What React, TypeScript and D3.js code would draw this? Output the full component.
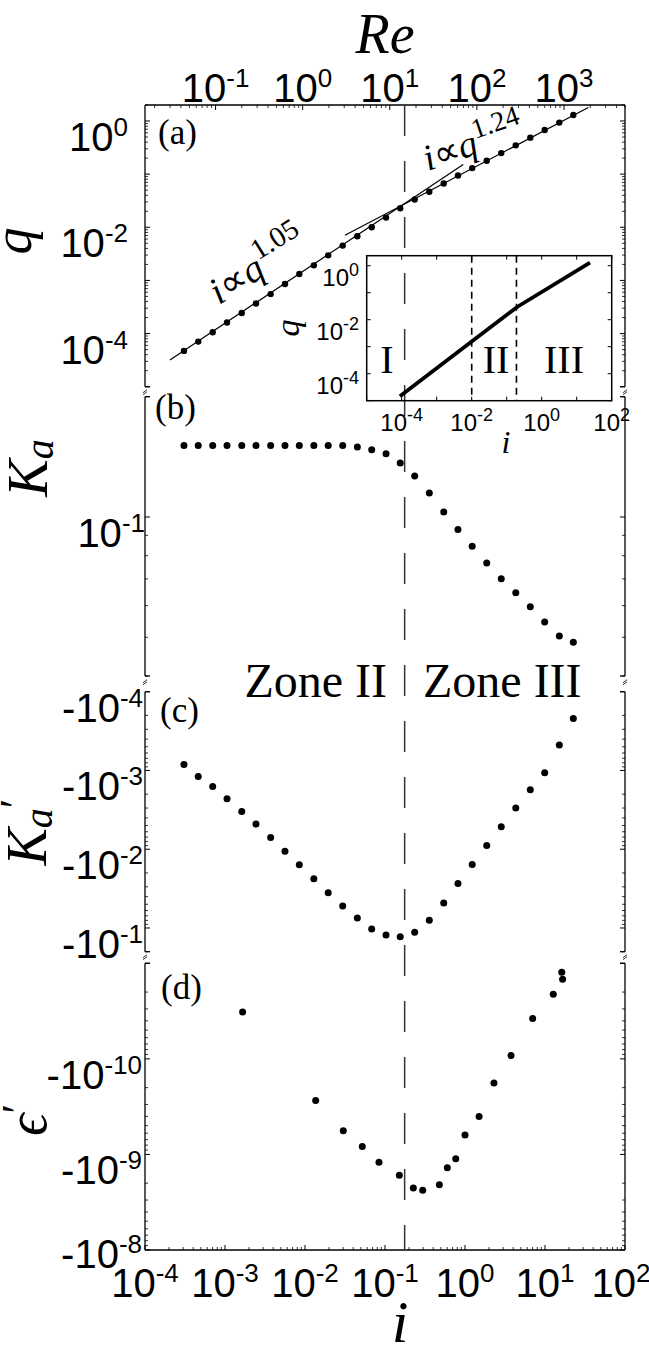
import React from "react";
import * as d3 from "d3";

// ---------------- data ----------------
const iValues = [3.07e-4, 4.63e-4, 7.02e-4, 1.06e-3, 1.62e-3, 2.44e-3, 3.72e-3, 5.62e-3, 8.49e-3, 1.29e-2, 1.95e-2, 2.96e-2, 4.51e-2, 6.82e-2, 0.103, 0.155, 0.235, 0.358, 0.542, 0.817, 1.23, 1.87, 2.84, 4.31, 6.55, 9.91, 15.1, 22.6];
const qValues = [4.72e-5, 7.06e-5, 1.06e-4, 1.61e-4, 2.43e-4, 3.68e-4, 5.53e-4, 8.55e-4, 1.32e-3, 1.92e-3, 2.96e-3, 4.52e-3, 6.76e-3, 1.0e-2, 1.52e-2, 2.28e-2, 3.33e-2, 4.66e-2, 6.68e-2, 9.44e-2, 0.13, 0.179, 0.249, 0.348, 0.486, 0.676, 0.933, 1.3];
const kaValues = [0.151, 0.151, 0.151, 0.151, 0.151, 0.151, 0.151, 0.151, 0.151, 0.151, 0.151, 0.151, 0.1496, 0.1474, 0.144, 0.1365, 0.1266, 0.1148, 0.1029, 0.093, 0.0845, 0.0767, 0.0701, 0.0646, 0.0596, 0.0546, 0.0504, 0.0486];
const kaPrimeValues = [-8.38e-4, -1.19e-3, -1.6e-3, -2.28e-3, -3.31e-3, -4.8e-3, -7.11e-3, -1.06e-2, -1.58e-2, -2.37e-2, -3.58e-2, -5.25e-2, -7.48e-2, -0.103, -0.123, -0.129, -0.113, -0.08, -0.0481, -0.0272, -0.0156, -8.99e-3, -5.19e-3, -2.99e-3, -1.76e-3, -1.07e-3, -4.75e-4, -2.19e-4];
const epsI = [1.66e-3, 1.36e-2, 3.01e-2, 5.2e-2, 8.41e-2, 0.151, 0.226, 0.296, 0.478, 0.601, 0.766, 1.0, 1.5, 2.3, 3.76, 7.01, 12.7, 16.6, 16.2];
const epsValues = [-3.24e-11, -2.72e-10, -5.65e-10, -8.26e-10, -1.21e-9, -1.65e-9, -2.24e-9, -2.37e-9, -2.07e-9, -1.38e-9, -1.11e-9, -6.27e-10, -4.0e-10, -1.79e-10, -9.23e-11, -3.78e-11, -2.11e-11, -1.47e-11, -1.24e-11];
const fit105I = [2.05e-4, 0.95];
const fit105Q = [3.19e-5, 0.152];
const fit124I = [0.0316, 34.8];
const fit124Q = [7.06e-3, 1.79];
const insetI = [8.9e-5, 1e-2, 0.204, 24];
const insetQ = [1.45e-5, 1.55e-3, 0.0302, 1.29];
const insetZoneBounds = [1e-2, 0.19];
const zoneBoundary = 0.176;
const iTickExps = [-4, -3, -2, -1, 0, 1, 2];
const reTickExps = [-1, 0, 1, 2, 3];
const qTickExps = [0, -2, -4];
const kaTickExps = [-1];
const kaPrimeTickExps = [-4, -3, -2, -1];
const epsTickExps = [-10, -9, -8];
const insetITickExps = [-4, -2, 0, 2];
const insetQTickExps = [0, -2, -4];

// ---------------- layout ----------------
const W = 649, H = 1349;
const X0 = 145, X1 = 625;
const TOP = 105, BOTTOM = 1250;
const SANS = "'Liberation Sans', Arial, Helvetica, sans-serif";
const SERIF = "'Liberation Serif', 'Times New Roman', Times, serif";

const xScale = d3.scaleLog().domain([1e-4, 1e2]).range([X0, X1]);
const reScale = d3.scaleLog().domain([Math.pow(10, -1.81), Math.pow(10, 3.7)]).range([X0, X1]);

const panelA = { top: TOP, bottom: 386.7, scale: d3.scaleLog().domain([1e-5, 2]).range([386.7, TOP]) };
const panelB = { top: 396.7, bottom: 676, scale: d3.scaleLog().domain([0.04, 0.2]).range([676, 396.7]) };
const panelC = { top: 691.7, bottom: 951.7, scale: d3.scaleLog().domain([1e-4, 0.2]).range([691.7, 951.7]) };
const panelD = { top: 963.3, bottom: BOTTOM, scale: d3.scaleLog().domain([1e-11, 1e-8]).range([963.3, BOTTOM]) };

const inset = { left: 366.7, right: 611.7, top: 255.7, bottom: 400.7 };
const insetX = d3.scaleLog().domain([1e-5, 1e2]).range([inset.left, inset.right]);
const insetY = d3.scaleLog().domain([1e-5, Math.pow(10, 0.37)]).range([inset.bottom, inset.top]);

function logTicks(lo: number, hi: number) {
  const major: number[] = [], minor: number[] = [];
  const a = Math.min(lo, hi), b = Math.max(lo, hi);
  for (let e = Math.floor(Math.log10(a)) - 1; e <= Math.ceil(Math.log10(b)); e++) {
    for (let m = 1; m < 10; m++) {
      const v = m * Math.pow(10, e);
      if (v < a * 0.9999 || v > b * 1.0001) continue;
      (m === 1 ? major : minor).push(v);
    }
  }
  return { major, minor };
}

const TickLabel = ({ x, y, anchor, neg, exp, size = 40, sup = 26, dy = -15 }: any) => (
  <text x={x} y={y} textAnchor={anchor} fontFamily={SANS} fontSize={size} fill="#000">
    {neg ? "-10" : "10"}
    <tspan dy={dy} fontSize={sup}>{String(exp)}</tspan>
  </text>
);

const PanelFrame = ({ p, first, last }: any) => {
  const dom = p.scale.domain();
  const { major, minor } = logTicks(dom[0], dom[1]);
  const els: any[] = [];
  [X0, X1].forEach((x, k) => {
    const dir = k === 0 ? 1 : -1;
    els.push(<line key={"ax" + k} x1={x} x2={x} y1={p.top} y2={p.bottom} stroke="#000" strokeWidth={1.3} />);
    if (!first) els.push(<line key={"st" + k} x1={x} x2={x + dir * 5} y1={p.top} y2={p.top} stroke="#000" strokeWidth={1.3} />);
    if (!last) els.push(<line key={"sb" + k} x1={x} x2={x + dir * 5} y1={p.bottom} y2={p.bottom} stroke="#000" strokeWidth={1.3} />);
    major.forEach((v, j) => els.push(<line key={"M" + k + "_" + j} x1={x} x2={x + dir * 5} y1={p.scale(v)} y2={p.scale(v)} stroke="#000" strokeWidth={1} />));
    minor.forEach((v, j) => els.push(<line key={"m" + k + "_" + j} x1={x} x2={x + dir * 3} y1={p.scale(v)} y2={p.scale(v)} stroke="#000" strokeWidth={0.8} />));
  });
  return <g>{els}</g>;
};

const BreakMark = ({ y }: any) => (
  <g stroke="#000" strokeWidth={0.8}>
    {[X0, X1].map((x, k) => (
      <g key={k}>
        <line x1={x - 2} y1={y + 1} x2={x + 2} y2={y - 2} />
        <line x1={x - 2} y1={y + 3} x2={x + 2} y2={y} />
      </g>
    ))}
  </g>
);

const Dots = ({ xs, ys, p, r = 3.5 }: any) => (
  <g fill="#000">
    {xs.map((xv: number, k: number) => (
      <circle key={k} cx={xScale(xv)} cy={p.scale(Math.abs(ys[k]))} r={r} />
    ))}
  </g>
);

export default function App() {
  const lineGen = (sx: any, sy: any) => d3.line<[number, number]>().x((d) => sx(d[0])).y((d) => sy(d[1]));
  const fitA = lineGen(xScale, panelA.scale)(fit105I.map((v, k) => [v, fit105Q[k]]) as any);
  const fitB = lineGen(xScale, panelA.scale)(fit124I.map((v, k) => [v, fit124Q[k]]) as any);
  const insetPath = lineGen(insetX, insetY)(insetI.map((v, k) => [v, insetQ[k]]) as any);

  const xt = logTicks(1e-4, 1e2);
  const rt = logTicks(reScale.domain()[0], reScale.domain()[1]);
  const ixt = logTicks(1e-5, 1e2);
  const iyt = logTicks(1e-5, Math.pow(10, 0.37));

  const zx = xScale(zoneBoundary);

  return (
    <svg width={W} height={H} viewBox={`0 0 ${W} ${H}`} style={{ position: "absolute", left: 0, top: 0, background: "#fff" }}>
      <rect x={0} y={0} width={W} height={H} fill="#fff" />

      {/* top (Re) axis */}
      <line x1={X0} x2={X1} y1={TOP} y2={TOP} stroke="#000" strokeWidth={1.3} />
      {rt.major.map((v, k) => <line key={"rM" + k} x1={reScale(v)} x2={reScale(v)} y1={TOP} y2={TOP + 5} stroke="#000" strokeWidth={1} />)}
      {rt.minor.map((v, k) => <line key={"rm" + k} x1={reScale(v)} x2={reScale(v)} y1={TOP} y2={TOP + 3} stroke="#000" strokeWidth={0.8} />)}
      {reTickExps.map((e) => <TickLabel key={"rl" + e} x={reScale(Math.pow(10, e))} y={102} anchor="middle" exp={e} />)}
      <text x={385} y={53} textAnchor="middle" fontFamily={SERIF} fontStyle="italic" fontSize={56}>Re</text>

      {/* bottom (i) axis */}
      <line x1={X0} x2={X1} y1={BOTTOM} y2={BOTTOM} stroke="#000" strokeWidth={1.3} />
      {xt.major.map((v, k) => <line key={"xM" + k} x1={xScale(v)} x2={xScale(v)} y1={BOTTOM} y2={BOTTOM - 5} stroke="#000" strokeWidth={1} />)}
      {xt.minor.map((v, k) => <line key={"xm" + k} x1={xScale(v)} x2={xScale(v)} y1={BOTTOM} y2={BOTTOM - 3} stroke="#000" strokeWidth={0.8} />)}
      {iTickExps.map((e) => <TickLabel key={"xl" + e} x={xScale(Math.pow(10, e)) - (e === 2 ? 4 : 0)} y={1297} anchor="middle" exp={e} />)}
      <text x={400} y={1342} textAnchor="middle" fontFamily={SERIF} fontStyle="italic" fontSize={60}>i</text>

      {/* panel frames */}
      <PanelFrame p={panelA} first />
      <PanelFrame p={panelB} />
      <PanelFrame p={panelC} />
      <PanelFrame p={panelD} last />
      <BreakMark y={391.7} />
      <BreakMark y={681.7} />
      <BreakMark y={956.7} />

      {/* y tick labels */}
      {qTickExps.map((e) => <TickLabel key={"ql" + e} x={128} y={panelA.scale(Math.pow(10, e)) + 30} anchor="end" exp={e} />)}
      {kaTickExps.map((e) => <TickLabel key={"kl" + e} x={145} y={panelB.scale(Math.pow(10, e)) + 30} anchor="end" exp={e} />)}
      {kaPrimeTickExps.map((e) => <TickLabel key={"kpl" + e} x={143} y={panelC.scale(Math.pow(10, e)) + 30} anchor="end" neg exp={e} />)}
      {epsTickExps.map((e) => {
        const ty = panelD.scale(Math.pow(10, e));
        return <TickLabel key={"el" + e} x={142} y={ty + (ty >= BOTTOM - 1 ? 18 : 30)} anchor="end" neg exp={e} />;
      })}

      {/* y axis titles */}
      <text transform="translate(31,241) rotate(-90)" textAnchor="middle" fontFamily={SERIF} fontStyle="italic" fontSize={54}>q</text>
      <text transform="translate(47,468) rotate(-90)" textAnchor="middle" fontFamily={SERIF} fontStyle="italic" fontSize={56}>
        K<tspan fontSize={40} dy={6}>a</tspan>
      </text>
      <text transform="translate(46,832) rotate(-90)" textAnchor="middle" fontFamily={SERIF} fontStyle="italic" fontSize={56}>
        K<tspan fontSize={40} dy={6}>a</tspan><tspan fontSize={44} dy={-22} fontStyle="normal">′</tspan>
      </text>
      <text transform="translate(46,1120) rotate(-90)" textAnchor="middle" fontFamily={SERIF} fontStyle="italic" fontSize={56}>
        ϵ<tspan fontSize={44} dy={-14} fontStyle="normal">′</tspan>
      </text>

      {/* panel letters */}
      <text x={158} y={144} fontFamily={SERIF} fontSize={35}>(a)</text>
      <text x={155} y={419} fontFamily={SERIF} fontSize={35}>(b)</text>
      <text x={160} y={722} fontFamily={SERIF} fontSize={35}>(c)</text>
      <text x={161} y={999} fontFamily={SERIF} fontSize={35}>(d)</text>

      {/* zone labels */}
      <text x={387} y={697} textAnchor="end" fontFamily={SERIF} fontSize={48}>Zone II</text>
      <text x={423} y={697} textAnchor="start" fontFamily={SERIF} fontSize={48}>Zone III</text>

      {/* zone boundary dashed line */}
      <line x1={zx} x2={zx} y1={TOP} y2={BOTTOM} stroke="#333" strokeWidth={1.5} strokeDasharray="31 25" />

      {/* panel (a) */}
      <path d={fitA || ""} fill="none" stroke="#000" strokeWidth={1.2} />
      <path d={fitB || ""} fill="none" stroke="#000" strokeWidth={1.2} />
      <Dots xs={iValues} ys={qValues} p={panelA} r={3.2} />
      <g transform="translate(219,305) rotate(-32)">
        <text x={0} y={0} fontFamily={SERIF} fontSize={38}>
          <tspan fontStyle="italic">i</tspan>
          <tspan>∝</tspan>
          <tspan fontStyle="italic">q</tspan>
          <tspan dy={-17} fontSize={29}>1.05</tspan>
        </text>
      </g>
      <g transform="translate(428,171) rotate(-19)">
        <text x={0} y={0} fontFamily={SERIF} fontSize={37}>
          <tspan fontStyle="italic">i</tspan>
          <tspan>∝</tspan>
          <tspan fontStyle="italic">q</tspan>
          <tspan dy={-15} fontSize={28}>1.24</tspan>
        </text>
      </g>

      {/* inset */}
      <rect x={inset.left} y={inset.top} width={inset.right - inset.left} height={inset.bottom - inset.top} fill="none" stroke="#000" strokeWidth={1.5} />
      {ixt.major.map((v, k) => (
        <g key={"ixM" + k} stroke="#000" strokeWidth={1}>
          <line x1={insetX(v)} x2={insetX(v)} y1={inset.bottom} y2={inset.bottom - 4} />
          <line x1={insetX(v)} x2={insetX(v)} y1={inset.top} y2={inset.top + 4} />
        </g>
      ))}
      {iyt.major.map((v, k) => (
        <g key={"iyM" + k} stroke="#000" strokeWidth={1}>
          <line x1={inset.left} x2={inset.left + 4} y1={insetY(v)} y2={insetY(v)} />
          <line x1={inset.right} x2={inset.right - 4} y1={insetY(v)} y2={insetY(v)} />
        </g>
      ))}
      {insetZoneBounds.map((v, k) => (
        <line key={"izb" + k} x1={insetX(v)} x2={insetX(v)} y1={inset.top} y2={inset.bottom} stroke="#000" strokeWidth={1.6} strokeDasharray="7 5" />
      ))}
      <path d={insetPath || ""} fill="none" stroke="#000" strokeWidth={3.8} />
      {insetITickExps.map((e) => <TickLabel key={"ixl" + e} x={insetX(Math.pow(10, e))} y={431} anchor="middle" exp={e} size={24} sup={18} dy={-10} />)}
      {insetQTickExps.map((e) => <TickLabel key={"iyl" + e} x={359} y={insetY(Math.pow(10, e)) + 20} anchor="end" exp={e} size={24} sup={18} dy={-10} />)}
      <text x={506} y={453} textAnchor="middle" fontFamily={SERIF} fontStyle="italic" fontSize={32}>i</text>
      <text transform="translate(299,328) rotate(-90)" textAnchor="middle" fontFamily={SERIF} fontStyle="italic" fontSize={34}>q</text>
      <text x={387} y={373} textAnchor="middle" fontFamily={SERIF} fontSize={40}>I</text>
      <text x={496} y={373} textAnchor="middle" fontFamily={SERIF} fontSize={40}>II</text>
      <text x={564} y={373} textAnchor="middle" fontFamily={SERIF} fontSize={40}>III</text>

      {/* panels b, c, d */}
      <Dots xs={iValues} ys={kaValues} p={panelB} />
      <Dots xs={iValues} ys={kaPrimeValues} p={panelC} />
      <Dots xs={epsI} ys={epsValues} p={panelD} />
    </svg>
  );
}
